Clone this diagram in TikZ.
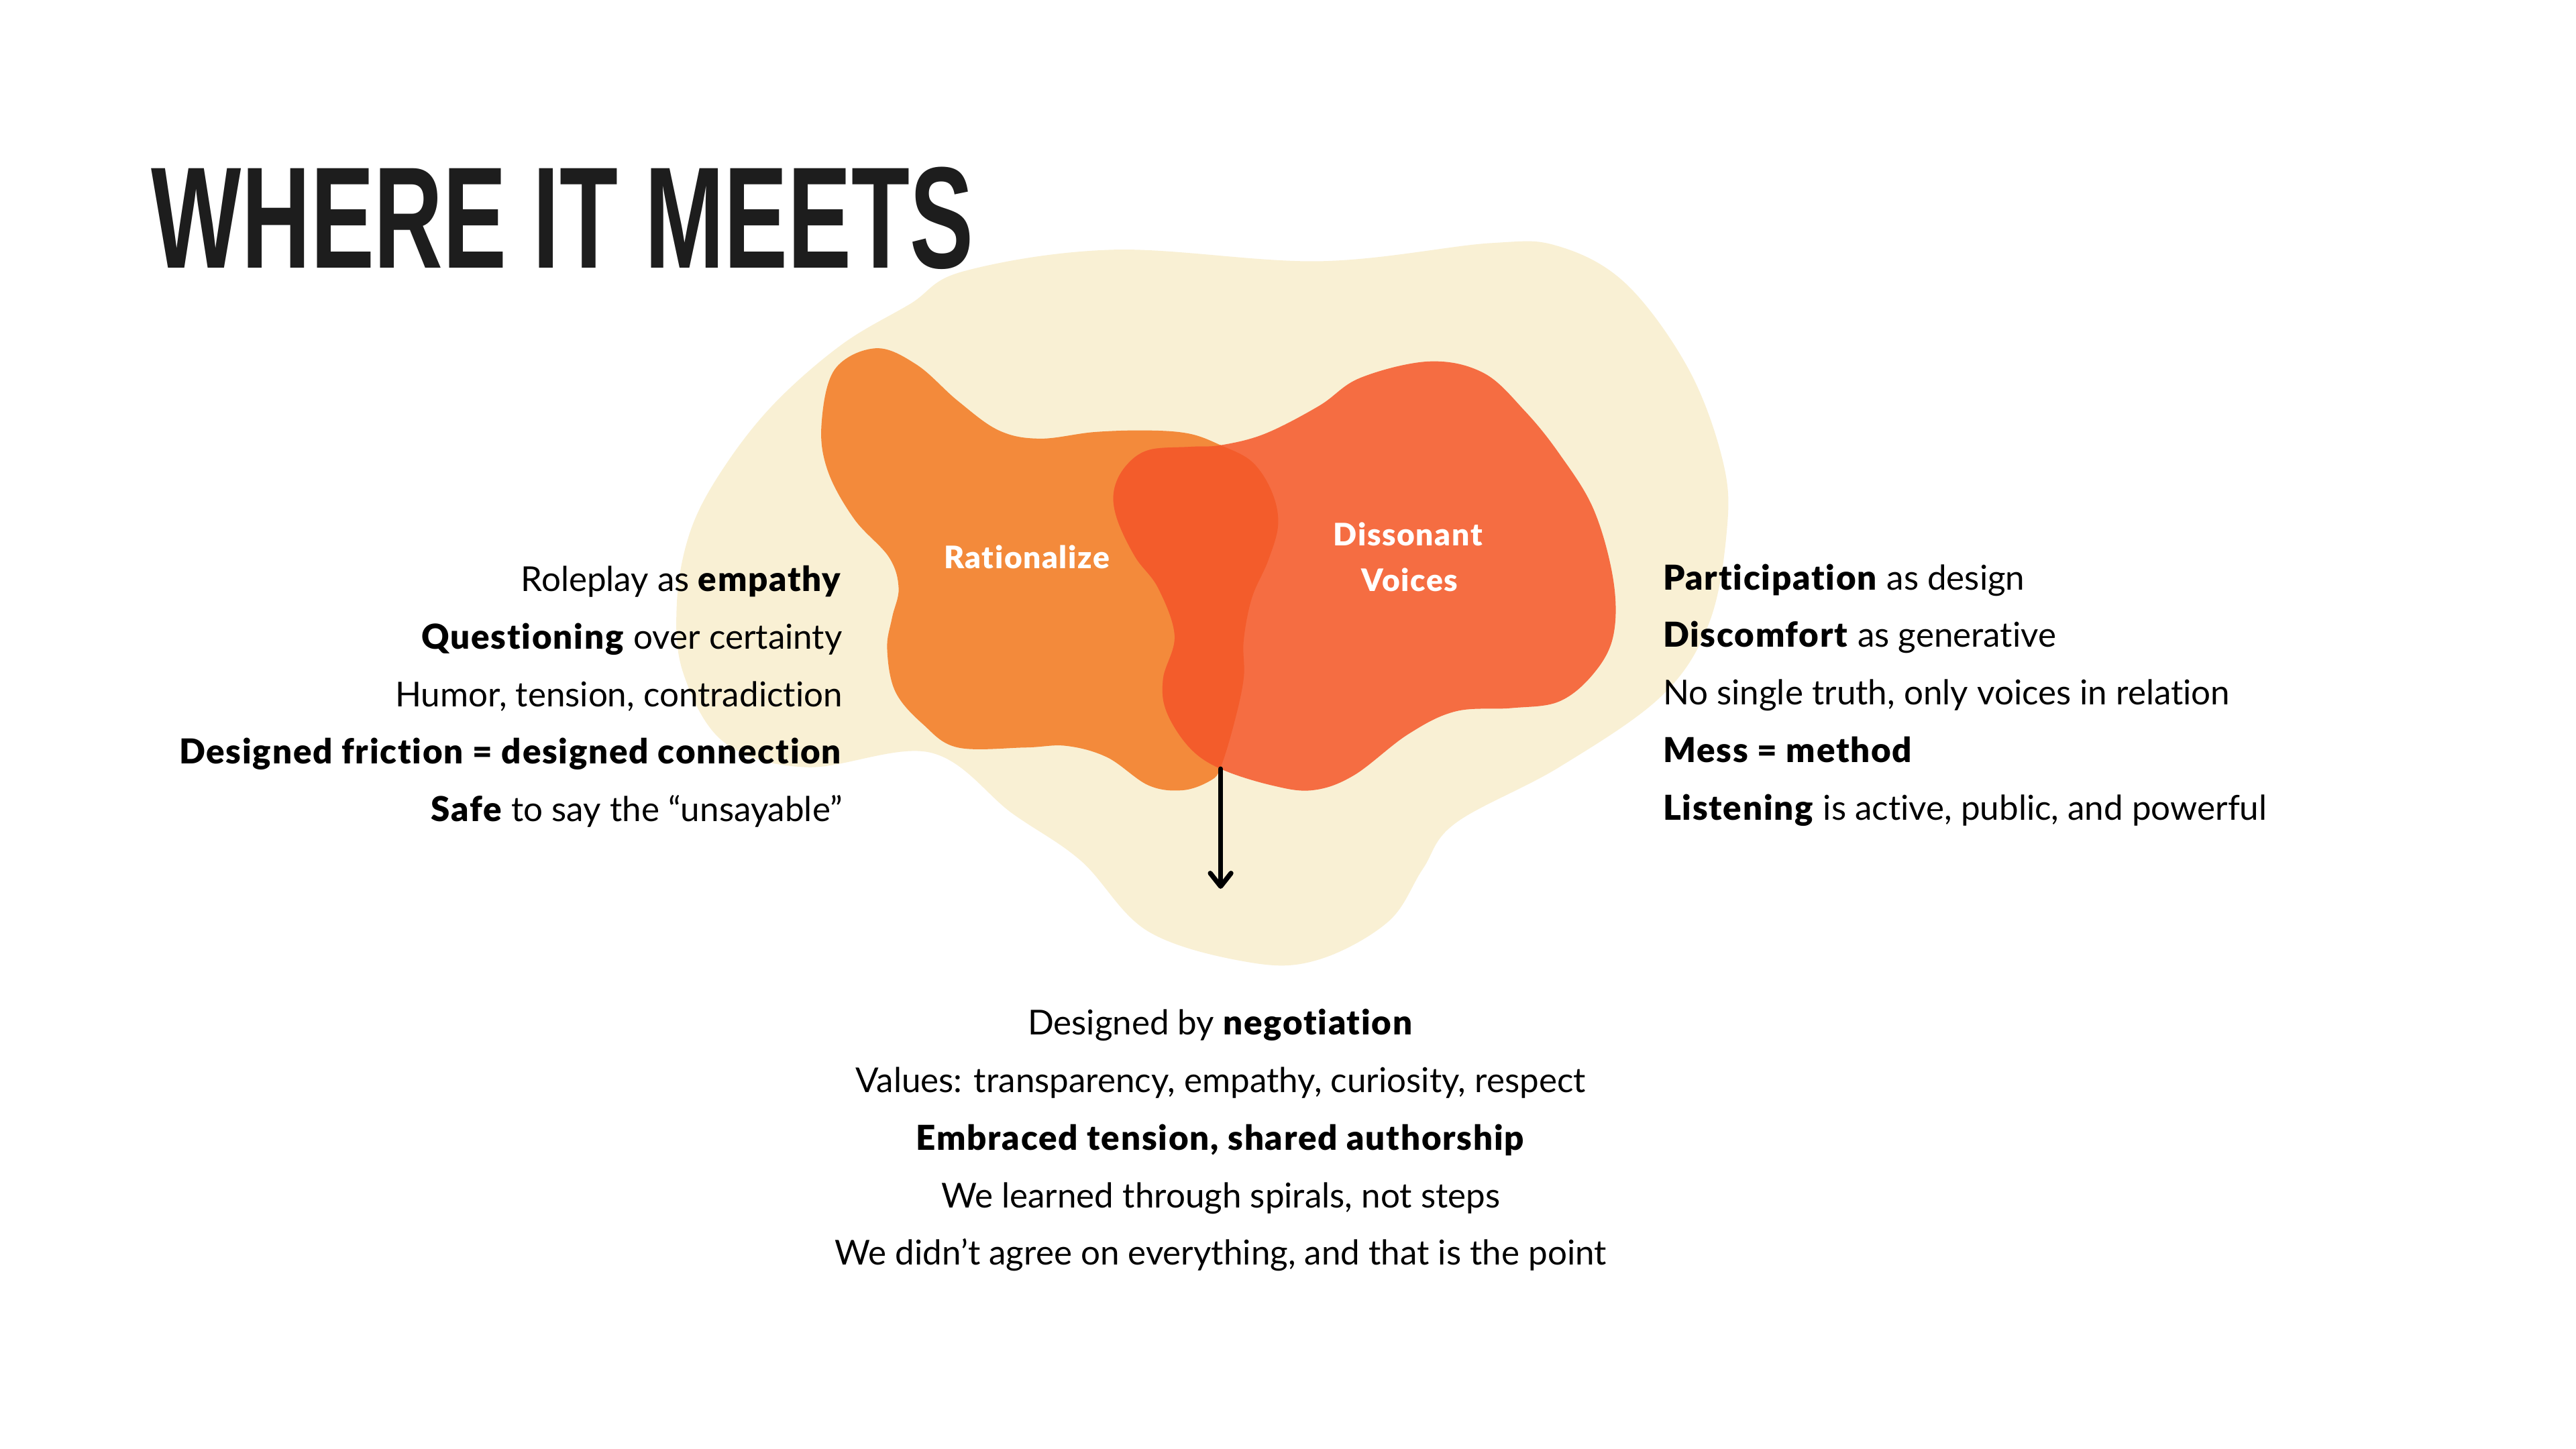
\documentclass[tikz,border=0pt]{standalone}
\usepackage{fontspec}
\usepackage{graphicx}
\setmainfont{Lato}[Ligatures=NoCommon, BoldFont={Lato Black}, BoldFeatures={LetterSpace=3.5}]
\newfontfamily\titlefont{Liberation Sans}
\usetikzlibrary{arrows.meta}
\definecolor{cream}{HTML}{F9F0D4}
\definecolor{leftorange}{HTML}{F38A3B}
\definecolor{rightorange}{HTML}{F56D42}
\definecolor{overlapc}{HTML}{F35C2B}
\definecolor{titlec}{HTML}{1D1D1D}
\begin{document}
\begin{tikzpicture}[x=0.025cm,y=-0.025cm,
  txt/.style={font=\fontsize{14.85pt}{17pt}\selectfont, inner sep=0pt, text=black},
  leftline/.style={txt, anchor=base east},
  rightline/.style={txt, anchor=base west},
  midline/.style={txt, anchor=base},
  blobtext/.style={font=\bfseries\fontsize{13.4pt}{15pt}\selectfont, text=white, inner sep=0pt, anchor=base},
  blob/.style={smooth cycle, tension=0.6},
  arrowline/.style={line width=2.1pt, line cap=round, -{Straight Barb[round, length=5.7pt, width=9pt, line width=2.1pt]}}
]
\useasboundingbox[fill=white] (0,0) rectangle (1568,882);

% cream background blob
\fill[cream] plot[blob] coordinates {
 (587,165) (678,152) (803,159) (907,148) (949,150) (990,173) (1028,225)
 (1049,282) (1051,324) (1040,380) (1011,424) (949,467) (886,501) (866,529)
 (845,561) (803,584) (762,586) (699,567) (658,524) (616,495) (566,458)
 (491,467) (441,452) (416,410) (412,367) (420,324) (439,287) (470,247)
 (512,210) (554,185)};

% left blob
\path[save path=\leftblob] plot[blob] coordinates {
 (533,212) (558,222) (583,244) (608,262) (633,267) (666,263) (699,262)
 (724,264) (743,271) (762,281) (774,299) (778,319) (772,341) (762,364)
 (757,390) (757,413) (751,441) (743,467) (737,475) (720,481) (699,478)
 (674,461) (649,454) (624,455) (583,455) (562,441) (545,421) (540,395)
 (543,376) (547,358) (541,339) (520,316) (504,287) (500,259) (508,225)};
% right blob
\path[save path=\rightblob] plot[blob] coordinates {
 (743,271) (770,264) (803,247) (828,230) (870,220) (903,227) (928,250)
 (949,276) (970,310) (982,353) (982,387) (970,410) (949,427) (920,431)
 (886,433) (857,447) (824,472) (799,481) (774,478) (743,468) (724,455)
 (710,433) (708,413) (715,387) (705,358) (691,339) (680,316) (678,299)
 (685,284) (699,274) (724,272)};

\fill[leftorange, use path=\leftblob];
\fill[rightorange, use path=\rightblob];
\begin{scope}
 \clip[use path=\leftblob];
 \fill[overlapc, use path=\rightblob];
\end{scope}

% title
\node[anchor=base west, inner sep=0pt, text=titlec] (title) at (92,163)
 {\scalebox{0.66}[1]{\titlefont\bfseries\fontsize{62.6pt}{70pt}\selectfont WHERE IT MEETS}};

% blob labels
\node[blobtext] (rat) at (625,346) {Rationalize};
\node[blobtext] (dis) at (857,332) {Dissonant};
\node[blobtext] (voi) at (858,360) {Voices};

% left column
\node[leftline] (l1) at (513,360) {Roleplay as \textbf{empathy}};
\node[leftline] (l2) at (513,395) {\textbf{Questioning} over certainty};
\node[leftline] (l3) at (513,430) {Humor, tension, contradiction};
\node[leftline] (l4) at (513,465) {\textbf{Designed friction = designed connection}};
\node[leftline] (l5) at (513,500) {\textbf{Safe} to say the “unsayable”};

% right column
\node[rightline] (r1) at (1012,359) {\textbf{Participation} as design};
\node[rightline] (r2) at (1012,394) {\textbf{Discomfort} as generative};
\node[rightline] (r3) at (1012,429) {No single truth, only voices in relation};
\node[rightline] (r4) at (1012,464) {\textbf{Mess = method}};
\node[rightline] (r5) at (1012,499) {\textbf{Listening} is active, public, and powerful};

% bottom column
\node[midline] (b1) at (743,630) {Designed by \textbf{negotiation}};
\node[midline] (b2) at (743,665) {Values: transparency, empathy, curiosity, respect};
\node[midline] (b3) at (743,700) {\textbf{Embraced tension, shared authorship}};
\node[midline] (b4) at (743,735) {We learned through spirals, not steps};
\node[midline] (b5) at (743,770) {We didn’t agree on everything, and that is the point};

% arrow
\coordinate (meet) at (743,468);
\coordinate (arrowend) at (743,541);
\draw[arrowline] (meet) -- (arrowend);
\end{tikzpicture}
\end{document}
